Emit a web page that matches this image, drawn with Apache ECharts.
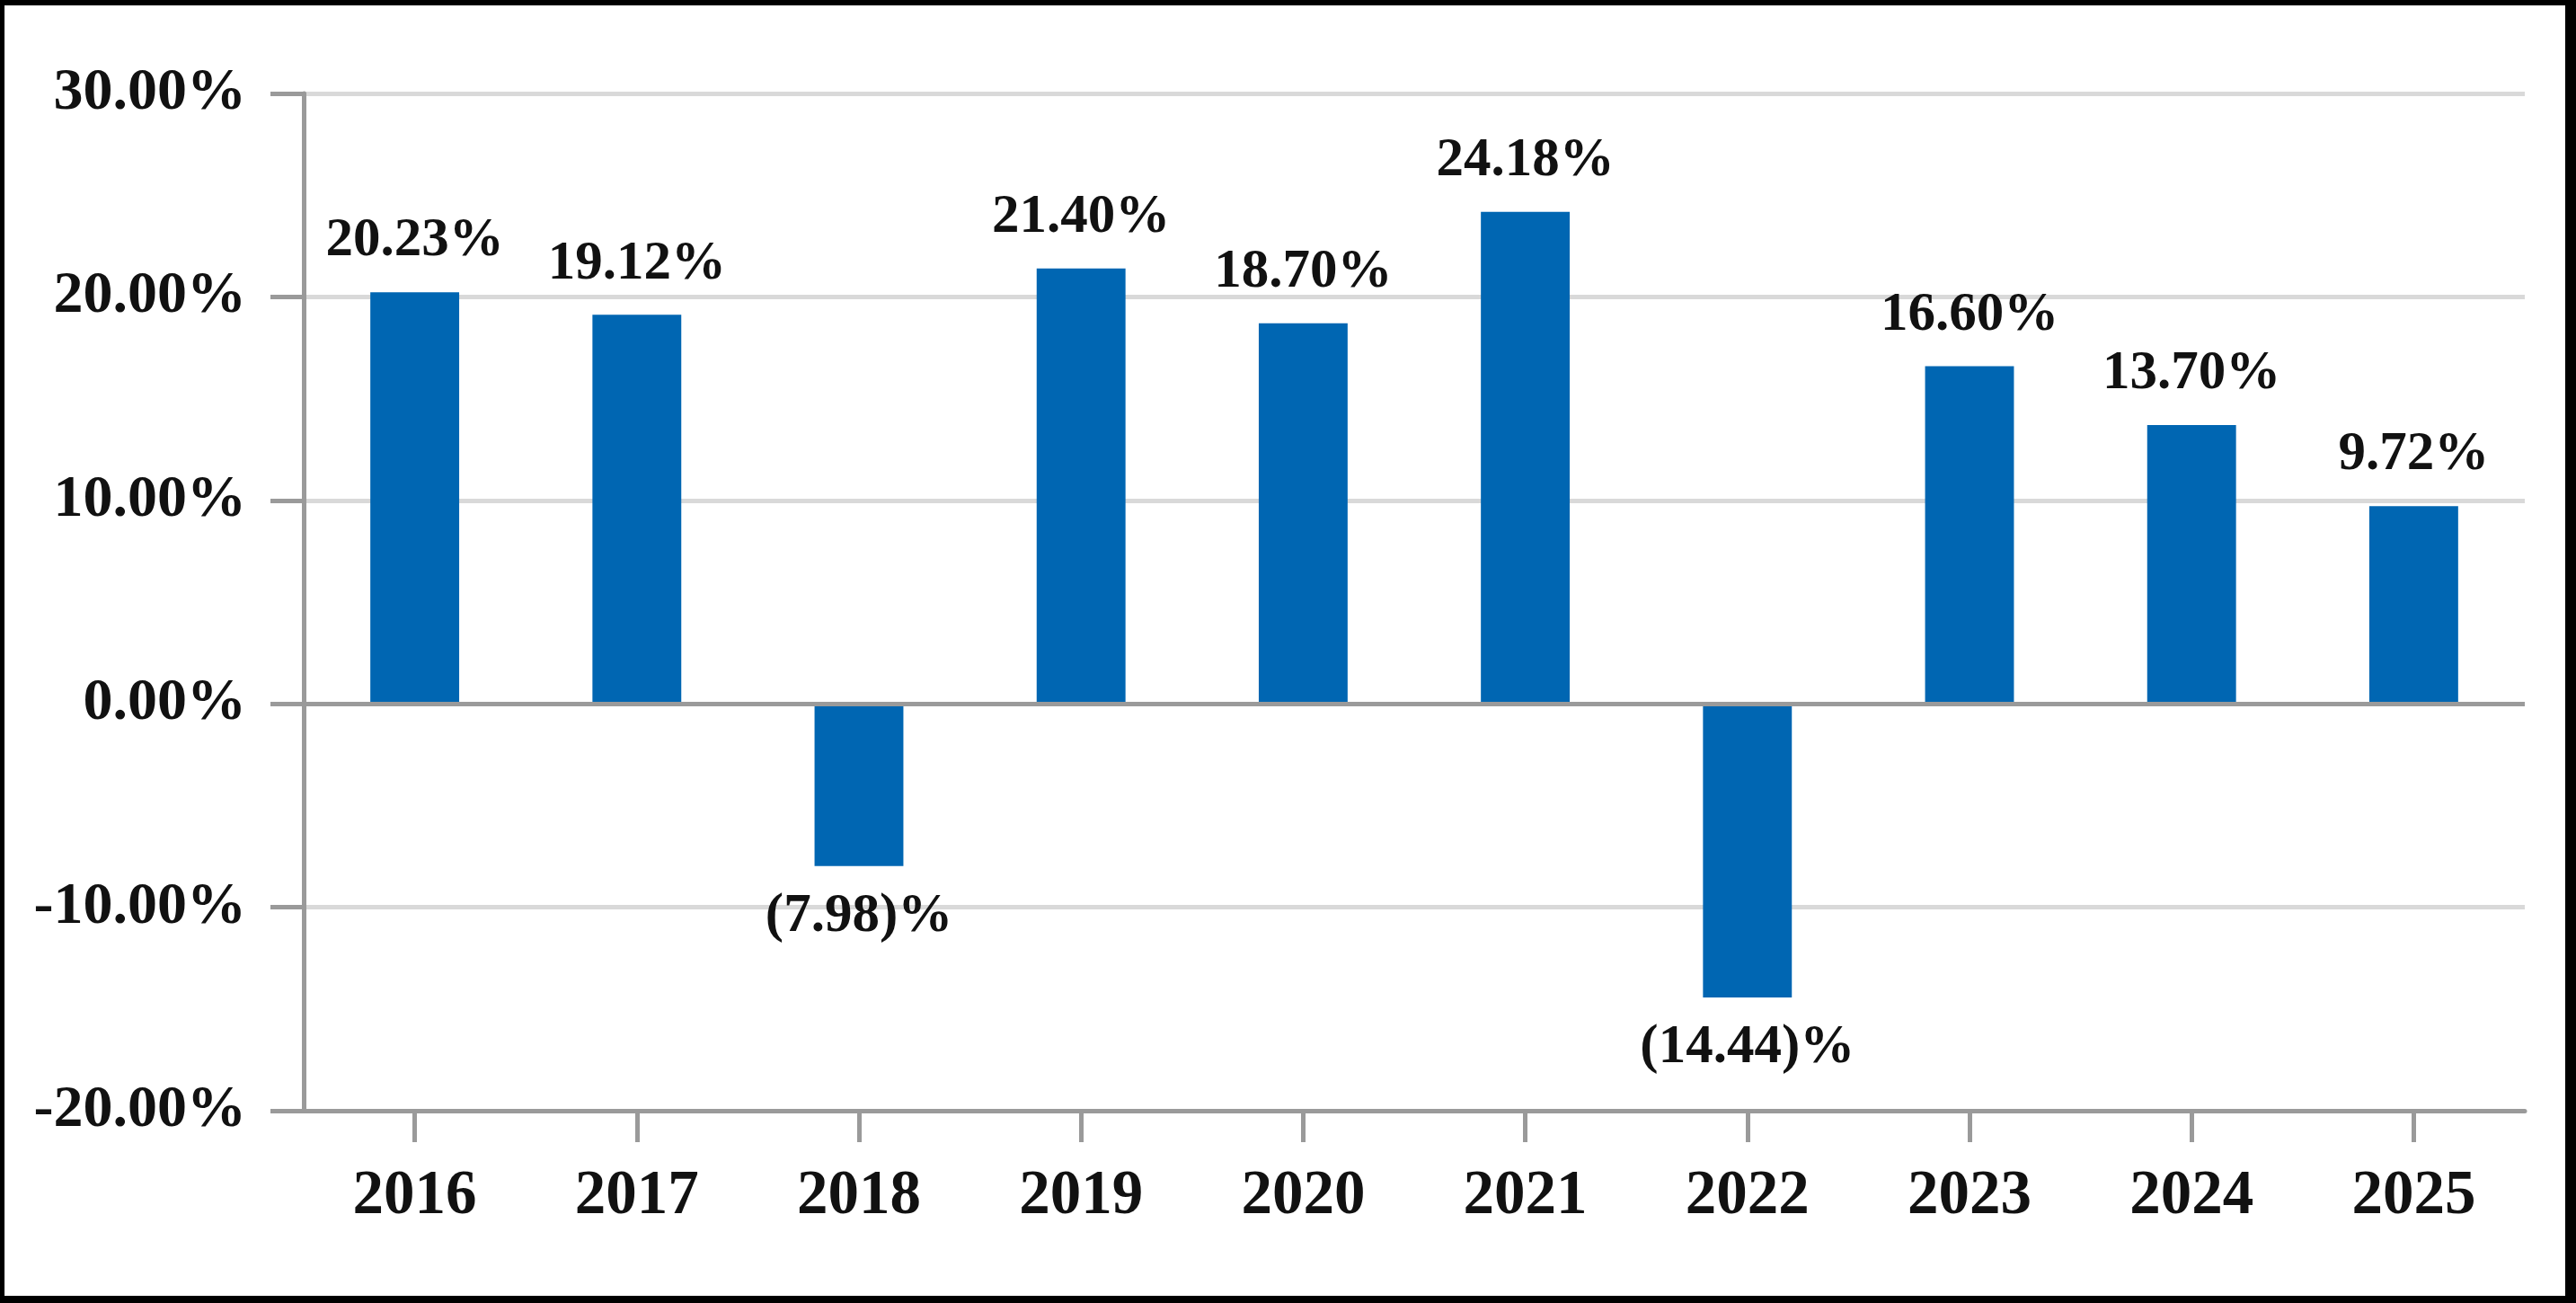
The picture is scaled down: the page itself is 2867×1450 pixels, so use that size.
<!DOCTYPE html>
<html>
<head>
<meta charset="utf-8">
<script src="https://cdn.jsdelivr.net/npm/echarts@6/dist/echarts.min.js"></script>
<style>
  html, body { margin: 0; padding: 0; background: #000; }
  body { width: 2867px; height: 1450px; position: relative; overflow: hidden; }
  #chart { position: absolute; left: 5px; top: 6px; width: 2850px; height: 1436px; background: #fff; }
</style>
</head>
<body>
<div id="chart"></div>
<script>
const categories = ['2016', '2017', '2018', '2019', '2020', '2021', '2022', '2023', '2024', '2025'];
const returns = [20.23, 19.12, -7.98, 21.40, 18.70, 24.18, -14.44, 16.60, 13.70, 9.72];
const yTicks = { min: -20, max: 30, interval: 10 };

const FONT = '"Liberation Serif", "DejaVu Serif", serif';
const AXIS_GRAY = '#9a9a9a';
const GRID_GRAY = '#d9d9d9';

function fmtValue(v) {
  return v >= 0 ? v.toFixed(2) + '%' : '(' + Math.abs(v).toFixed(2) + ')%';
}

const chart = echarts.init(document.getElementById('chart'));
chart.setOption({
  backgroundColor: '#ffffff',
  animation: false,
  grid: { left: 333, right: 45, top: 98, bottom: 206, containLabel: false },
  xAxis: {
    type: 'category',
    data: categories,
    axisLine: { onZero: false, lineStyle: { color: AXIS_GRAY, width: 5 } },
    axisTick: { show: true, alignWithLabel: true, length: 35, lineStyle: { color: AXIS_GRAY, width: 5 } },
    axisLabel: { color: '#111', fontFamily: FONT, fontWeight: 'bold', fontSize: 69, margin: 62 },
    splitLine: { show: false }
  },
  yAxis: {
    type: 'value',
    min: yTicks.min,
    max: yTicks.max,
    interval: yTicks.interval,
    axisLine: { show: true, lineStyle: { color: AXIS_GRAY, width: 5 } },
    axisTick: { show: true, length: 37, lineStyle: { color: AXIS_GRAY, width: 5 } },
    axisLabel: {
      color: '#111', fontFamily: FONT, fontWeight: 'bold', fontSize: 66, margin: 64,
      formatter: v => v.toFixed(2) + '%'
    },
    splitLine: { show: true, lineStyle: { color: GRID_GRAY, width: 5 } }
  },
  series: [{
    type: 'bar',
    barWidth: '40%',
    itemStyle: { color: '#0066B2' },
    data: returns.map(v => ({ value: v, label: { position: v < 0 ? 'bottom' : 'top' } })),
    label: {
      show: true,
      distance: 26,
      color: '#111', fontFamily: FONT, fontWeight: 'bold', fontSize: 61,
      formatter: p => fmtValue(p.value)
    },
    markLine: {
      silent: true,
      symbol: ['none', 'none'],
      label: { show: false },
      lineStyle: { color: AXIS_GRAY, width: 5, type: 'solid' },
      data: [{ yAxis: 0 }]
    }
  }]
});
</script>
</body>
</html>
